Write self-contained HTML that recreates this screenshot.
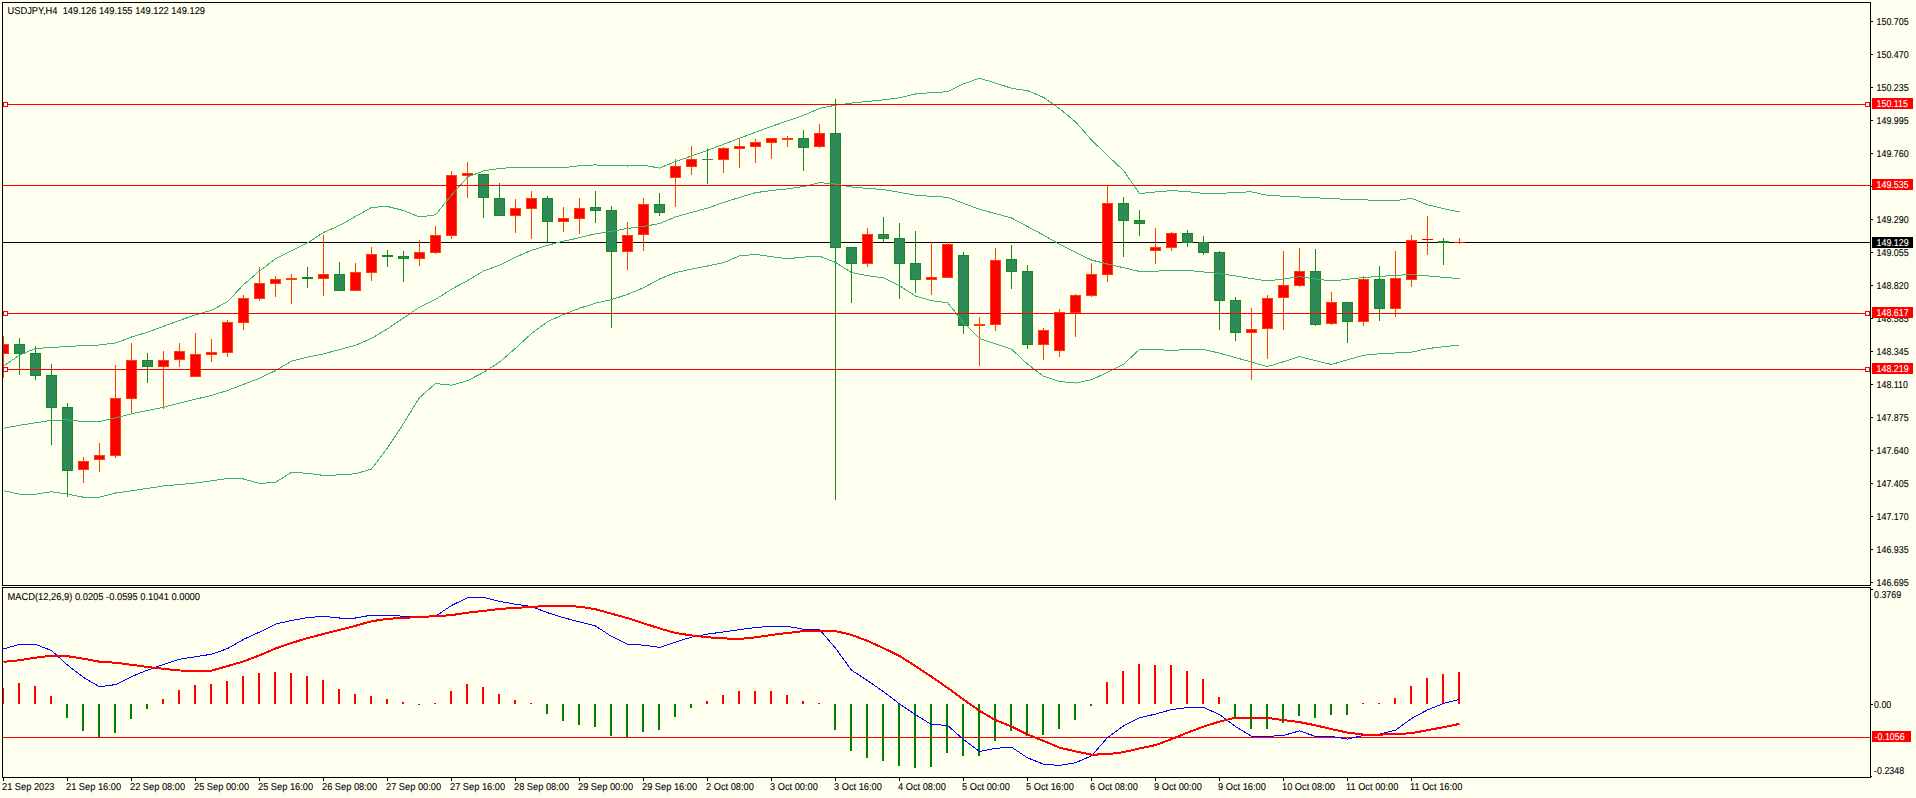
<!DOCTYPE html>
<html><head><meta charset="utf-8"><title>USDJPY,H4</title>
<style>html,body{margin:0;padding:0;background:#FFFFF0;width:1916px;height:798px;overflow:hidden}svg{display:block}.txt{font-family:"Liberation Sans",sans-serif}</style>
</head><body>
<svg width="1916" height="798" viewBox="0 0 1916 798">
<rect x="0" y="0" width="1916" height="798" fill="#FFFFF0"/>
<defs><clipPath id="cm"><rect x="3" y="3" width="1867" height="582"/></clipPath><clipPath id="cd"><rect x="3" y="588" width="1867" height="189"/></clipPath></defs>
<g clip-path="url(#cm)" shape-rendering="crispEdges">
<rect x="3" y="242" width="1867" height="1" fill="#000000"/>
<rect x="3" y="336" width="1" height="42" fill="#FF4000"/>
<rect x="-2" y="344" width="11" height="10" fill="#FF0000" />
<rect x="-1.5" y="344.5" width="10" height="9" fill="none" stroke="#FF4000" stroke-width="1"/>
<rect x="19" y="338" width="1" height="37" fill="#168A1C"/>
<rect x="14" y="344" width="11" height="10" fill="#2E8B57" />
<rect x="14.5" y="344.5" width="10" height="9" fill="none" stroke="#168A1C" stroke-width="1"/>
<rect x="35" y="346" width="1" height="34" fill="#168A1C"/>
<rect x="30" y="353" width="11" height="23" fill="#2E8B57" />
<rect x="30.5" y="353.5" width="10" height="22" fill="none" stroke="#168A1C" stroke-width="1"/>
<rect x="51" y="364" width="1" height="81" fill="#168A1C"/>
<rect x="46" y="375" width="11" height="33" fill="#2E8B57" />
<rect x="46.5" y="375.5" width="10" height="32" fill="none" stroke="#168A1C" stroke-width="1"/>
<rect x="67" y="403" width="1" height="94" fill="#168A1C"/>
<rect x="62" y="407" width="11" height="64" fill="#2E8B57" />
<rect x="62.5" y="407.5" width="10" height="63" fill="none" stroke="#168A1C" stroke-width="1"/>
<rect x="83" y="457" width="1" height="26" fill="#FF4000"/>
<rect x="78" y="461" width="11" height="9" fill="#FF0000" />
<rect x="78.5" y="461.5" width="10" height="8" fill="none" stroke="#FF4000" stroke-width="1"/>
<rect x="99" y="443" width="1" height="29" fill="#FF4000"/>
<rect x="94" y="455" width="11" height="5" fill="#FF0000" />
<rect x="94.5" y="455.5" width="10" height="4" fill="none" stroke="#FF4000" stroke-width="1"/>
<rect x="115" y="365" width="1" height="93" fill="#FF4000"/>
<rect x="110" y="398" width="11" height="58" fill="#FF0000" />
<rect x="110.5" y="398.5" width="10" height="57" fill="none" stroke="#FF4000" stroke-width="1"/>
<rect x="131" y="343" width="1" height="70" fill="#FF4000"/>
<rect x="126" y="360" width="11" height="39" fill="#FF0000" />
<rect x="126.5" y="360.5" width="10" height="38" fill="none" stroke="#FF4000" stroke-width="1"/>
<rect x="147" y="353" width="1" height="30" fill="#168A1C"/>
<rect x="142" y="360" width="11" height="7" fill="#2E8B57" />
<rect x="142.5" y="360.5" width="10" height="6" fill="none" stroke="#168A1C" stroke-width="1"/>
<rect x="163" y="351" width="1" height="58" fill="#FF4000"/>
<rect x="158" y="360" width="11" height="7" fill="#FF0000" />
<rect x="158.5" y="360.5" width="10" height="6" fill="none" stroke="#FF4000" stroke-width="1"/>
<rect x="179" y="343" width="1" height="24" fill="#FF4000"/>
<rect x="174" y="351" width="11" height="9" fill="#FF0000" />
<rect x="174.5" y="351.5" width="10" height="8" fill="none" stroke="#FF4000" stroke-width="1"/>
<rect x="195" y="333" width="1" height="44" fill="#FF4000"/>
<rect x="190" y="354" width="11" height="23" fill="#FF0000" />
<rect x="190.5" y="354.5" width="10" height="22" fill="none" stroke="#FF4000" stroke-width="1"/>
<rect x="211" y="339" width="1" height="23" fill="#FF4000"/>
<rect x="206" y="352" width="11" height="3" fill="#FF0000" />
<rect x="206.5" y="352.5" width="10" height="2" fill="none" stroke="#FF4000" stroke-width="1"/>
<rect x="227" y="320" width="1" height="37" fill="#FF4000"/>
<rect x="222" y="322" width="11" height="31" fill="#FF0000" />
<rect x="222.5" y="322.5" width="10" height="30" fill="none" stroke="#FF4000" stroke-width="1"/>
<rect x="243" y="295" width="1" height="35" fill="#FF4000"/>
<rect x="238" y="298" width="11" height="25" fill="#FF0000" />
<rect x="238.5" y="298.5" width="10" height="24" fill="none" stroke="#FF4000" stroke-width="1"/>
<rect x="259" y="267" width="1" height="34" fill="#FF4000"/>
<rect x="254" y="283" width="11" height="16" fill="#FF0000" />
<rect x="254.5" y="283.5" width="10" height="15" fill="none" stroke="#FF4000" stroke-width="1"/>
<rect x="275" y="276" width="1" height="21" fill="#FF4000"/>
<rect x="270" y="279" width="11" height="5" fill="#FF0000" />
<rect x="270.5" y="279.5" width="10" height="4" fill="none" stroke="#FF4000" stroke-width="1"/>
<rect x="291" y="274" width="1" height="30" fill="#FF4000"/>
<rect x="286" y="278" width="11" height="2" fill="#FF0000" />
<rect x="286.5" y="278.5" width="10" height="1" fill="none" stroke="#FF4000" stroke-width="1"/>
<rect x="307" y="267" width="1" height="21" fill="#168A1C"/>
<rect x="302" y="277" width="11" height="2" fill="#2E8B57" />
<rect x="302.5" y="277.5" width="10" height="1" fill="none" stroke="#168A1C" stroke-width="1"/>
<rect x="323" y="235" width="1" height="61" fill="#FF4000"/>
<rect x="318" y="274" width="11" height="5" fill="#FF0000" />
<rect x="318.5" y="274.5" width="10" height="4" fill="none" stroke="#FF4000" stroke-width="1"/>
<rect x="339" y="262" width="1" height="29" fill="#168A1C"/>
<rect x="334" y="274" width="11" height="17" fill="#2E8B57" />
<rect x="334.5" y="274.5" width="10" height="16" fill="none" stroke="#168A1C" stroke-width="1"/>
<rect x="355" y="263" width="1" height="28" fill="#FF4000"/>
<rect x="350" y="272" width="11" height="19" fill="#FF0000" />
<rect x="350.5" y="272.5" width="10" height="18" fill="none" stroke="#FF4000" stroke-width="1"/>
<rect x="371" y="247" width="1" height="34" fill="#FF4000"/>
<rect x="366" y="254" width="11" height="19" fill="#FF0000" />
<rect x="366.5" y="254.5" width="10" height="18" fill="none" stroke="#FF4000" stroke-width="1"/>
<rect x="387" y="250" width="1" height="17" fill="#168A1C"/>
<rect x="382" y="255" width="11" height="2" fill="#2E8B57" />
<rect x="382.5" y="255.5" width="10" height="1" fill="none" stroke="#168A1C" stroke-width="1"/>
<rect x="403" y="251" width="1" height="31" fill="#168A1C"/>
<rect x="398" y="256" width="11" height="3" fill="#2E8B57" />
<rect x="398.5" y="256.5" width="10" height="2" fill="none" stroke="#168A1C" stroke-width="1"/>
<rect x="419" y="240" width="1" height="26" fill="#FF4000"/>
<rect x="414" y="252" width="11" height="7" fill="#FF0000" />
<rect x="414.5" y="252.5" width="10" height="6" fill="none" stroke="#FF4000" stroke-width="1"/>
<rect x="435" y="226" width="1" height="28" fill="#FF4000"/>
<rect x="430" y="235" width="11" height="18" fill="#FF0000" />
<rect x="430.5" y="235.5" width="10" height="17" fill="none" stroke="#FF4000" stroke-width="1"/>
<rect x="451" y="171" width="1" height="68" fill="#FF4000"/>
<rect x="446" y="175" width="11" height="61" fill="#FF0000" />
<rect x="446.5" y="175.5" width="10" height="60" fill="none" stroke="#FF4000" stroke-width="1"/>
<rect x="467" y="162" width="1" height="36" fill="#FF4000"/>
<rect x="462" y="173" width="11" height="3" fill="#FF0000" />
<rect x="462.5" y="173.5" width="10" height="2" fill="none" stroke="#FF4000" stroke-width="1"/>
<rect x="483" y="174" width="1" height="44" fill="#168A1C"/>
<rect x="478" y="174" width="11" height="24" fill="#2E8B57" />
<rect x="478.5" y="174.5" width="10" height="23" fill="none" stroke="#168A1C" stroke-width="1"/>
<rect x="499" y="183" width="1" height="33" fill="#168A1C"/>
<rect x="494" y="198" width="11" height="18" fill="#2E8B57" />
<rect x="494.5" y="198.5" width="10" height="17" fill="none" stroke="#168A1C" stroke-width="1"/>
<rect x="515" y="199" width="1" height="34" fill="#FF4000"/>
<rect x="510" y="208" width="11" height="8" fill="#FF0000" />
<rect x="510.5" y="208.5" width="10" height="7" fill="none" stroke="#FF4000" stroke-width="1"/>
<rect x="531" y="191" width="1" height="48" fill="#FF4000"/>
<rect x="526" y="198" width="11" height="11" fill="#FF0000" />
<rect x="526.5" y="198.5" width="10" height="10" fill="none" stroke="#FF4000" stroke-width="1"/>
<rect x="547" y="196" width="1" height="46" fill="#168A1C"/>
<rect x="542" y="198" width="11" height="24" fill="#2E8B57" />
<rect x="542.5" y="198.5" width="10" height="23" fill="none" stroke="#168A1C" stroke-width="1"/>
<rect x="563" y="207" width="1" height="25" fill="#FF4000"/>
<rect x="558" y="218" width="11" height="4" fill="#FF0000" />
<rect x="558.5" y="218.5" width="10" height="3" fill="none" stroke="#FF4000" stroke-width="1"/>
<rect x="579" y="198" width="1" height="36" fill="#FF4000"/>
<rect x="574" y="208" width="11" height="11" fill="#FF0000" />
<rect x="574.5" y="208.5" width="10" height="10" fill="none" stroke="#FF4000" stroke-width="1"/>
<rect x="595" y="191" width="1" height="32" fill="#168A1C"/>
<rect x="590" y="207" width="11" height="4" fill="#2E8B57" />
<rect x="590.5" y="207.5" width="10" height="3" fill="none" stroke="#168A1C" stroke-width="1"/>
<rect x="611" y="206" width="1" height="122" fill="#168A1C"/>
<rect x="606" y="210" width="11" height="42" fill="#2E8B57" />
<rect x="606.5" y="210.5" width="10" height="41" fill="none" stroke="#168A1C" stroke-width="1"/>
<rect x="627" y="222" width="1" height="48" fill="#FF4000"/>
<rect x="622" y="235" width="11" height="17" fill="#FF0000" />
<rect x="622.5" y="235.5" width="10" height="16" fill="none" stroke="#FF4000" stroke-width="1"/>
<rect x="643" y="198" width="1" height="53" fill="#FF4000"/>
<rect x="638" y="204" width="11" height="31" fill="#FF0000" />
<rect x="638.5" y="204.5" width="10" height="30" fill="none" stroke="#FF4000" stroke-width="1"/>
<rect x="659" y="193" width="1" height="23" fill="#168A1C"/>
<rect x="654" y="204" width="11" height="9" fill="#2E8B57" />
<rect x="654.5" y="204.5" width="10" height="8" fill="none" stroke="#168A1C" stroke-width="1"/>
<rect x="675" y="159" width="1" height="48" fill="#FF4000"/>
<rect x="670" y="166" width="11" height="12" fill="#FF0000" />
<rect x="670.5" y="166.5" width="10" height="11" fill="none" stroke="#FF4000" stroke-width="1"/>
<rect x="691" y="146" width="1" height="29" fill="#FF4000"/>
<rect x="686" y="159" width="11" height="8" fill="#FF0000" />
<rect x="686.5" y="159.5" width="10" height="7" fill="none" stroke="#FF4000" stroke-width="1"/>
<rect x="707" y="149" width="1" height="35" fill="#168A1C"/>
<rect x="702" y="159" width="11" height="1" fill="#2E8B57" />
<rect x="702.5" y="159.5" width="10" height="0" fill="none" stroke="#168A1C" stroke-width="1"/>
<rect x="723" y="147" width="1" height="26" fill="#FF4000"/>
<rect x="718" y="148" width="11" height="12" fill="#FF0000" />
<rect x="718.5" y="148.5" width="10" height="11" fill="none" stroke="#FF4000" stroke-width="1"/>
<rect x="739" y="139" width="1" height="29" fill="#FF4000"/>
<rect x="734" y="146" width="11" height="3" fill="#FF0000" />
<rect x="734.5" y="146.5" width="10" height="2" fill="none" stroke="#FF4000" stroke-width="1"/>
<rect x="755" y="139" width="1" height="24" fill="#FF4000"/>
<rect x="750" y="142" width="11" height="5" fill="#FF0000" />
<rect x="750.5" y="142.5" width="10" height="4" fill="none" stroke="#FF4000" stroke-width="1"/>
<rect x="771" y="138" width="1" height="21" fill="#FF4000"/>
<rect x="766" y="138" width="11" height="5" fill="#FF0000" />
<rect x="766.5" y="138.5" width="10" height="4" fill="none" stroke="#FF4000" stroke-width="1"/>
<rect x="787" y="136" width="1" height="11" fill="#FF4000"/>
<rect x="782" y="138" width="11" height="2" fill="#FF0000" />
<rect x="782.5" y="138.5" width="10" height="1" fill="none" stroke="#FF4000" stroke-width="1"/>
<rect x="803" y="130" width="1" height="41" fill="#168A1C"/>
<rect x="798" y="138" width="11" height="10" fill="#2E8B57" />
<rect x="798.5" y="138.5" width="10" height="9" fill="none" stroke="#168A1C" stroke-width="1"/>
<rect x="819" y="124" width="1" height="24" fill="#FF4000"/>
<rect x="814" y="133" width="11" height="14" fill="#FF0000" />
<rect x="814.5" y="133.5" width="10" height="13" fill="none" stroke="#FF4000" stroke-width="1"/>
<rect x="835" y="99" width="1" height="401" fill="#168A1C"/>
<rect x="830" y="133" width="11" height="115" fill="#2E8B57" />
<rect x="830.5" y="133.5" width="10" height="114" fill="none" stroke="#168A1C" stroke-width="1"/>
<rect x="851" y="247" width="1" height="56" fill="#168A1C"/>
<rect x="846" y="247" width="11" height="17" fill="#2E8B57" />
<rect x="846.5" y="247.5" width="10" height="16" fill="none" stroke="#168A1C" stroke-width="1"/>
<rect x="867" y="228" width="1" height="39" fill="#FF4000"/>
<rect x="862" y="234" width="11" height="30" fill="#FF0000" />
<rect x="862.5" y="234.5" width="10" height="29" fill="none" stroke="#FF4000" stroke-width="1"/>
<rect x="883" y="217" width="1" height="25" fill="#168A1C"/>
<rect x="878" y="234" width="11" height="5" fill="#2E8B57" />
<rect x="878.5" y="234.5" width="10" height="4" fill="none" stroke="#168A1C" stroke-width="1"/>
<rect x="899" y="223" width="1" height="76" fill="#168A1C"/>
<rect x="894" y="238" width="11" height="26" fill="#2E8B57" />
<rect x="894.5" y="238.5" width="10" height="25" fill="none" stroke="#168A1C" stroke-width="1"/>
<rect x="915" y="231" width="1" height="62" fill="#168A1C"/>
<rect x="910" y="263" width="11" height="17" fill="#2E8B57" />
<rect x="910.5" y="263.5" width="10" height="16" fill="none" stroke="#168A1C" stroke-width="1"/>
<rect x="931" y="242" width="1" height="53" fill="#FF4000"/>
<rect x="926" y="277" width="11" height="3" fill="#FF0000" />
<rect x="926.5" y="277.5" width="10" height="2" fill="none" stroke="#FF4000" stroke-width="1"/>
<rect x="947" y="242" width="1" height="36" fill="#FF4000"/>
<rect x="942" y="244" width="11" height="34" fill="#FF0000" />
<rect x="942.5" y="244.5" width="10" height="33" fill="none" stroke="#FF4000" stroke-width="1"/>
<rect x="963" y="252" width="1" height="82" fill="#168A1C"/>
<rect x="958" y="255" width="11" height="71" fill="#2E8B57" />
<rect x="958.5" y="255.5" width="10" height="70" fill="none" stroke="#168A1C" stroke-width="1"/>
<rect x="979" y="317" width="1" height="49" fill="#FF4000"/>
<rect x="974" y="324" width="11" height="2" fill="#FF0000" />
<rect x="974.5" y="324.5" width="10" height="1" fill="none" stroke="#FF4000" stroke-width="1"/>
<rect x="995" y="248" width="1" height="83" fill="#FF4000"/>
<rect x="990" y="260" width="11" height="65" fill="#FF0000" />
<rect x="990.5" y="260.5" width="10" height="64" fill="none" stroke="#FF4000" stroke-width="1"/>
<rect x="1011" y="245" width="1" height="44" fill="#168A1C"/>
<rect x="1006" y="259" width="11" height="13" fill="#2E8B57" />
<rect x="1006.5" y="259.5" width="10" height="12" fill="none" stroke="#168A1C" stroke-width="1"/>
<rect x="1027" y="265" width="1" height="84" fill="#168A1C"/>
<rect x="1022" y="271" width="11" height="74" fill="#2E8B57" />
<rect x="1022.5" y="271.5" width="10" height="73" fill="none" stroke="#168A1C" stroke-width="1"/>
<rect x="1043" y="328" width="1" height="32" fill="#FF4000"/>
<rect x="1038" y="330" width="11" height="15" fill="#FF0000" />
<rect x="1038.5" y="330.5" width="10" height="14" fill="none" stroke="#FF4000" stroke-width="1"/>
<rect x="1059" y="309" width="1" height="48" fill="#FF4000"/>
<rect x="1054" y="312" width="11" height="39" fill="#FF0000" />
<rect x="1054.5" y="312.5" width="10" height="38" fill="none" stroke="#FF4000" stroke-width="1"/>
<rect x="1075" y="294" width="1" height="43" fill="#FF4000"/>
<rect x="1070" y="295" width="11" height="18" fill="#FF0000" />
<rect x="1070.5" y="295.5" width="10" height="17" fill="none" stroke="#FF4000" stroke-width="1"/>
<rect x="1091" y="263" width="1" height="34" fill="#FF4000"/>
<rect x="1086" y="274" width="11" height="22" fill="#FF0000" />
<rect x="1086.5" y="274.5" width="10" height="21" fill="none" stroke="#FF4000" stroke-width="1"/>
<rect x="1107" y="186" width="1" height="96" fill="#FF4000"/>
<rect x="1102" y="203" width="11" height="72" fill="#FF0000" />
<rect x="1102.5" y="203.5" width="10" height="71" fill="none" stroke="#FF4000" stroke-width="1"/>
<rect x="1123" y="197" width="1" height="60" fill="#168A1C"/>
<rect x="1118" y="203" width="11" height="18" fill="#2E8B57" />
<rect x="1118.5" y="203.5" width="10" height="17" fill="none" stroke="#168A1C" stroke-width="1"/>
<rect x="1139" y="210" width="1" height="26" fill="#168A1C"/>
<rect x="1134" y="220" width="11" height="4" fill="#2E8B57" />
<rect x="1134.5" y="220.5" width="10" height="3" fill="none" stroke="#168A1C" stroke-width="1"/>
<rect x="1155" y="228" width="1" height="36" fill="#FF4000"/>
<rect x="1150" y="247" width="11" height="4" fill="#FF0000" />
<rect x="1150.5" y="247.5" width="10" height="3" fill="none" stroke="#FF4000" stroke-width="1"/>
<rect x="1171" y="232" width="1" height="19" fill="#FF4000"/>
<rect x="1166" y="233" width="11" height="15" fill="#FF0000" />
<rect x="1166.5" y="233.5" width="10" height="14" fill="none" stroke="#FF4000" stroke-width="1"/>
<rect x="1187" y="230" width="1" height="17" fill="#168A1C"/>
<rect x="1182" y="233" width="11" height="10" fill="#2E8B57" />
<rect x="1182.5" y="233.5" width="10" height="9" fill="none" stroke="#168A1C" stroke-width="1"/>
<rect x="1203" y="236" width="1" height="19" fill="#168A1C"/>
<rect x="1198" y="242" width="11" height="11" fill="#2E8B57" />
<rect x="1198.5" y="242.5" width="10" height="10" fill="none" stroke="#168A1C" stroke-width="1"/>
<rect x="1219" y="251" width="1" height="79" fill="#168A1C"/>
<rect x="1214" y="252" width="11" height="49" fill="#2E8B57" />
<rect x="1214.5" y="252.5" width="10" height="48" fill="none" stroke="#168A1C" stroke-width="1"/>
<rect x="1235" y="297" width="1" height="44" fill="#168A1C"/>
<rect x="1230" y="300" width="11" height="33" fill="#2E8B57" />
<rect x="1230.5" y="300.5" width="10" height="32" fill="none" stroke="#168A1C" stroke-width="1"/>
<rect x="1251" y="308" width="1" height="72" fill="#FF4000"/>
<rect x="1246" y="329" width="11" height="4" fill="#FF0000" />
<rect x="1246.5" y="329.5" width="10" height="3" fill="none" stroke="#FF4000" stroke-width="1"/>
<rect x="1267" y="295" width="1" height="64" fill="#FF4000"/>
<rect x="1262" y="298" width="11" height="31" fill="#FF0000" />
<rect x="1262.5" y="298.5" width="10" height="30" fill="none" stroke="#FF4000" stroke-width="1"/>
<rect x="1283" y="251" width="1" height="79" fill="#FF4000"/>
<rect x="1278" y="285" width="11" height="13" fill="#FF0000" />
<rect x="1278.5" y="285.5" width="10" height="12" fill="none" stroke="#FF4000" stroke-width="1"/>
<rect x="1299" y="248" width="1" height="39" fill="#FF4000"/>
<rect x="1294" y="271" width="11" height="15" fill="#FF0000" />
<rect x="1294.5" y="271.5" width="10" height="14" fill="none" stroke="#FF4000" stroke-width="1"/>
<rect x="1315" y="249" width="1" height="77" fill="#168A1C"/>
<rect x="1310" y="271" width="11" height="54" fill="#2E8B57" />
<rect x="1310.5" y="271.5" width="10" height="53" fill="none" stroke="#168A1C" stroke-width="1"/>
<rect x="1331" y="292" width="1" height="33" fill="#FF4000"/>
<rect x="1326" y="302" width="11" height="22" fill="#FF0000" />
<rect x="1326.5" y="302.5" width="10" height="21" fill="none" stroke="#FF4000" stroke-width="1"/>
<rect x="1347" y="302" width="1" height="41" fill="#168A1C"/>
<rect x="1342" y="302" width="11" height="20" fill="#2E8B57" />
<rect x="1342.5" y="302.5" width="10" height="19" fill="none" stroke="#168A1C" stroke-width="1"/>
<rect x="1363" y="276" width="1" height="50" fill="#FF4000"/>
<rect x="1358" y="279" width="11" height="43" fill="#FF0000" />
<rect x="1358.5" y="279.5" width="10" height="42" fill="none" stroke="#FF4000" stroke-width="1"/>
<rect x="1379" y="266" width="1" height="55" fill="#168A1C"/>
<rect x="1374" y="279" width="11" height="30" fill="#2E8B57" />
<rect x="1374.5" y="279.5" width="10" height="29" fill="none" stroke="#168A1C" stroke-width="1"/>
<rect x="1395" y="251" width="1" height="66" fill="#FF4000"/>
<rect x="1390" y="278" width="11" height="31" fill="#FF0000" />
<rect x="1390.5" y="278.5" width="10" height="30" fill="none" stroke="#FF4000" stroke-width="1"/>
<rect x="1411" y="235" width="1" height="52" fill="#FF4000"/>
<rect x="1406" y="240" width="11" height="40" fill="#FF0000" />
<rect x="1406.5" y="240.5" width="10" height="39" fill="none" stroke="#FF4000" stroke-width="1"/>
<rect x="1427" y="216" width="1" height="39" fill="#FF4000"/>
<rect x="1422" y="239" width="11" height="1" fill="#FF0000" />
<rect x="1422.5" y="239.5" width="10" height="0" fill="none" stroke="#FF4000" stroke-width="1"/>
<rect x="1443" y="238" width="1" height="27" fill="#168A1C"/>
<rect x="1438" y="241" width="11" height="2" fill="#2E8B57" />
<rect x="1438.5" y="241.5" width="10" height="1" fill="none" stroke="#168A1C" stroke-width="1"/>
<rect x="1459" y="238" width="1" height="6" fill="#FF4000"/>
<rect x="1454" y="242" width="11" height="1" fill="#FF0000" />
<rect x="1454.5" y="242.5" width="10" height="0" fill="none" stroke="#FF4000" stroke-width="1"/>
</g>
<g clip-path="url(#cm)" fill="none" stroke="#3CB371" stroke-width="1" shape-rendering="crispEdges">
<polyline points="3.5,366.2 19.5,354.9 35.5,348.5 51.5,347.5 67.5,346.4 83.5,345.7 99.5,345.0 115.5,343.0 131.5,337.0 147.5,332.2 163.5,326.4 179.5,320.4 195.5,314.9 211.5,310.2 227.5,301.8 243.5,284.6 259.5,271.0 275.5,258.8 291.5,250.9 307.5,242.9 323.5,232.5 339.5,225.5 355.5,216.5 371.5,207.4 387.5,206.5 403.5,210.5 419.5,217.0 435.5,214.8 451.5,195.1 467.5,177.1 483.5,170.9 499.5,168.5 515.5,167.2 531.5,167.2 547.5,167.4 563.5,167.7 579.5,165.7 595.5,164.9 611.5,165.9 627.5,166.0 643.5,165.2 659.5,168.1 675.5,161.5 691.5,156.0 707.5,150.4 723.5,144.3 739.5,138.2 755.5,132.3 771.5,126.4 787.5,120.9 803.5,115.4 819.5,108.4 835.5,105.2 851.5,103.1 867.5,101.5 883.5,99.9 899.5,97.8 915.5,94.0 931.5,92.6 947.5,91.8 963.5,83.9 979.5,78.2 995.5,83.1 1011.5,88.3 1027.5,90.6 1043.5,97.4 1059.5,108.6 1075.5,121.9 1091.5,140.0 1107.5,155.5 1123.5,170.5 1139.5,193.5 1155.5,192.0 1171.5,190.6 1187.5,191.6 1203.5,193.4 1219.5,193.8 1235.5,192.2 1251.5,191.9 1267.5,195.4 1283.5,196.2 1299.5,197.0 1315.5,197.8 1331.5,198.6 1347.5,199.4 1363.5,199.9 1379.5,200.3 1395.5,200.7 1411.5,198.3 1427.5,204.8 1443.5,208.6 1459.5,212.0"/>
<polyline points="3.5,428.2 19.5,425.3 35.5,422.8 51.5,420.4 67.5,419.8 83.5,421.6 99.5,421.6 115.5,417.8 131.5,413.8 147.5,410.5 163.5,407.3 179.5,403.1 195.5,399.2 211.5,395.4 227.5,390.5 243.5,384.4 259.5,378.3 275.5,370.5 291.5,361.2 307.5,357.2 323.5,353.9 339.5,349.6 355.5,345.3 371.5,338.5 387.5,328.8 403.5,318.0 419.5,307.1 435.5,299.4 451.5,289.2 467.5,280.7 483.5,270.9 499.5,265.1 515.5,257.1 531.5,250.3 547.5,245.3 563.5,241.2 579.5,237.7 595.5,233.8 611.5,231.4 627.5,228.4 643.5,226.4 659.5,223.6 675.5,216.9 691.5,212.4 707.5,208.1 723.5,202.5 739.5,197.4 755.5,192.7 771.5,190.5 787.5,188.9 803.5,186.5 819.5,182.6 835.5,184.1 851.5,187.0 867.5,188.4 883.5,189.6 899.5,192.3 915.5,195.2 931.5,196.3 947.5,197.3 963.5,203.3 979.5,209.3 995.5,213.6 1011.5,218.0 1027.5,226.5 1043.5,235.1 1059.5,244.3 1075.5,252.3 1091.5,260.0 1107.5,264.0 1123.5,267.7 1139.5,271.5 1155.5,271.1 1171.5,270.7 1187.5,270.4 1203.5,272.0 1219.5,273.6 1235.5,276.0 1251.5,278.5 1267.5,281.0 1283.5,278.9 1299.5,276.7 1315.5,278.9 1331.5,281.0 1347.5,279.3 1363.5,277.5 1379.5,276.4 1395.5,275.4 1411.5,274.5 1427.5,275.9 1443.5,277.3 1459.5,278.7"/>
<polyline points="3.5,490.6 19.5,494.2 35.5,494.2 51.5,491.8 67.5,494.1 83.5,497.2 99.5,497.2 115.5,493.0 131.5,490.8 147.5,488.4 163.5,486.0 179.5,484.5 195.5,483.0 211.5,480.8 227.5,478.5 243.5,479.0 259.5,483.5 275.5,482.3 291.5,472.3 307.5,473.3 323.5,475.4 339.5,474.9 355.5,473.8 371.5,469.0 387.5,447.9 403.5,423.6 419.5,397.6 435.5,383.6 451.5,385.2 467.5,380.7 483.5,372.4 499.5,362.1 515.5,348.3 531.5,333.5 547.5,321.7 563.5,314.4 579.5,308.3 595.5,303.2 611.5,299.6 627.5,294.4 643.5,287.8 659.5,279.0 675.5,272.6 691.5,269.1 707.5,266.0 723.5,262.8 739.5,255.9 755.5,254.4 771.5,256.7 787.5,258.7 803.5,257.1 819.5,256.2 835.5,262.4 851.5,272.6 867.5,275.6 883.5,277.9 899.5,285.7 915.5,296.0 931.5,300.7 947.5,302.7 963.5,322.3 979.5,338.5 995.5,343.9 1011.5,349.1 1027.5,364.1 1043.5,376.2 1059.5,381.5 1075.5,383.1 1091.5,379.7 1107.5,372.4 1123.5,364.3 1139.5,349.4 1155.5,349.8 1171.5,350.2 1187.5,349.8 1203.5,349.4 1219.5,353.2 1235.5,357.6 1251.5,362.1 1267.5,366.6 1283.5,361.7 1299.5,356.6 1315.5,360.6 1331.5,364.5 1347.5,359.8 1363.5,355.2 1379.5,353.8 1395.5,353.0 1411.5,352.2 1427.5,348.6 1443.5,346.7 1459.5,345.0"/>
</g>
<g shape-rendering="crispEdges">
<rect x="3" y="104" width="1867" height="1" fill="#FF0000"/>
<rect x="3.5" y="102.5" width="4" height="4" fill="#FFFFF0" stroke="#FF0000" stroke-width="1"/>
<rect x="1865.5" y="102.5" width="4" height="4" fill="#FFFFF0" stroke="#FF0000" stroke-width="1"/>
<rect x="3" y="185" width="1867" height="1" fill="#FF0000"/>
<rect x="3" y="313" width="1867" height="1" fill="#FF0000"/>
<rect x="3.5" y="311.5" width="4" height="4" fill="#FFFFF0" stroke="#FF0000" stroke-width="1"/>
<rect x="1865.5" y="311.5" width="4" height="4" fill="#FFFFF0" stroke="#FF0000" stroke-width="1"/>
<rect x="3" y="369" width="1867" height="1" fill="#FF0000"/>
<rect x="3.5" y="367.5" width="4" height="4" fill="#FFFFF0" stroke="#FF0000" stroke-width="1"/>
<rect x="1865.5" y="367.5" width="4" height="4" fill="#FFFFF0" stroke="#FF0000" stroke-width="1"/>
</g>
<g clip-path="url(#cd)" shape-rendering="crispEdges">
<rect x="2" y="688" width="2" height="16" fill="#FF0000"/>
<rect x="18" y="683" width="2" height="21" fill="#FF0000"/>
<rect x="34" y="686" width="2" height="18" fill="#FF0000"/>
<rect x="50" y="696" width="2" height="8" fill="#FF0000"/>
<rect x="162" y="699" width="2" height="5" fill="#FF0000"/>
<rect x="178" y="690" width="2" height="14" fill="#FF0000"/>
<rect x="194" y="685" width="2" height="19" fill="#FF0000"/>
<rect x="210" y="684" width="2" height="20" fill="#FF0000"/>
<rect x="226" y="681" width="2" height="23" fill="#FF0000"/>
<rect x="242" y="676" width="2" height="28" fill="#FF0000"/>
<rect x="258" y="673" width="2" height="31" fill="#FF0000"/>
<rect x="274" y="672" width="2" height="32" fill="#FF0000"/>
<rect x="290" y="673" width="2" height="31" fill="#FF0000"/>
<rect x="306" y="676" width="2" height="28" fill="#FF0000"/>
<rect x="322" y="680" width="2" height="24" fill="#FF0000"/>
<rect x="338" y="689" width="2" height="15" fill="#FF0000"/>
<rect x="354" y="694" width="2" height="10" fill="#FF0000"/>
<rect x="370" y="696" width="2" height="8" fill="#FF0000"/>
<rect x="386" y="699" width="2" height="5" fill="#FF0000"/>
<rect x="402" y="702" width="2" height="2" fill="#FF0000"/>
<rect x="434" y="703" width="2" height="1" fill="#FF0000"/>
<rect x="450" y="691" width="2" height="13" fill="#FF0000"/>
<rect x="466" y="684" width="2" height="20" fill="#FF0000"/>
<rect x="482" y="687" width="2" height="17" fill="#FF0000"/>
<rect x="498" y="694" width="2" height="10" fill="#FF0000"/>
<rect x="514" y="700" width="2" height="4" fill="#FF0000"/>
<rect x="530" y="703" width="2" height="1" fill="#FF0000"/>
<rect x="706" y="701" width="2" height="3" fill="#FF0000"/>
<rect x="722" y="695" width="2" height="9" fill="#FF0000"/>
<rect x="738" y="691" width="2" height="13" fill="#FF0000"/>
<rect x="754" y="691" width="2" height="13" fill="#FF0000"/>
<rect x="770" y="691" width="2" height="13" fill="#FF0000"/>
<rect x="786" y="695" width="2" height="9" fill="#FF0000"/>
<rect x="802" y="701" width="2" height="3" fill="#FF0000"/>
<rect x="818" y="703" width="2" height="1" fill="#FF0000"/>
<rect x="1106" y="682" width="2" height="22" fill="#FF0000"/>
<rect x="1122" y="671" width="2" height="33" fill="#FF0000"/>
<rect x="1138" y="664" width="2" height="40" fill="#FF0000"/>
<rect x="1154" y="665" width="2" height="39" fill="#FF0000"/>
<rect x="1170" y="665" width="2" height="39" fill="#FF0000"/>
<rect x="1186" y="671" width="2" height="33" fill="#FF0000"/>
<rect x="1202" y="679" width="2" height="25" fill="#FF0000"/>
<rect x="1218" y="697" width="2" height="7" fill="#FF0000"/>
<rect x="1362" y="703" width="2" height="1" fill="#FF0000"/>
<rect x="1378" y="703" width="2" height="1" fill="#FF0000"/>
<rect x="1394" y="698" width="2" height="6" fill="#FF0000"/>
<rect x="1410" y="686" width="2" height="18" fill="#FF0000"/>
<rect x="1426" y="678" width="2" height="26" fill="#FF0000"/>
<rect x="1442" y="674" width="2" height="30" fill="#FF0000"/>
<rect x="1458" y="672" width="2" height="32" fill="#FF0000"/>
<rect x="66" y="704" width="2" height="14" fill="#008000"/>
<rect x="82" y="704" width="2" height="27" fill="#008000"/>
<rect x="98" y="704" width="2" height="34" fill="#008000"/>
<rect x="114" y="704" width="2" height="29" fill="#008000"/>
<rect x="130" y="704" width="2" height="15" fill="#008000"/>
<rect x="146" y="704" width="2" height="5" fill="#008000"/>
<rect x="418" y="704" width="2" height="1" fill="#008000"/>
<rect x="546" y="704" width="2" height="10" fill="#008000"/>
<rect x="562" y="704" width="2" height="17" fill="#008000"/>
<rect x="578" y="704" width="2" height="21" fill="#008000"/>
<rect x="594" y="704" width="2" height="23" fill="#008000"/>
<rect x="610" y="704" width="2" height="32" fill="#008000"/>
<rect x="626" y="704" width="2" height="33" fill="#008000"/>
<rect x="642" y="704" width="2" height="28" fill="#008000"/>
<rect x="658" y="704" width="2" height="26" fill="#008000"/>
<rect x="674" y="704" width="2" height="13" fill="#008000"/>
<rect x="690" y="704" width="2" height="4" fill="#008000"/>
<rect x="834" y="704" width="2" height="26" fill="#008000"/>
<rect x="850" y="704" width="2" height="47" fill="#008000"/>
<rect x="866" y="704" width="2" height="54" fill="#008000"/>
<rect x="882" y="704" width="2" height="57" fill="#008000"/>
<rect x="898" y="704" width="2" height="62" fill="#008000"/>
<rect x="914" y="704" width="2" height="64" fill="#008000"/>
<rect x="930" y="704" width="2" height="63" fill="#008000"/>
<rect x="946" y="704" width="2" height="49" fill="#008000"/>
<rect x="962" y="704" width="2" height="52" fill="#008000"/>
<rect x="978" y="704" width="2" height="52" fill="#008000"/>
<rect x="994" y="704" width="2" height="37" fill="#008000"/>
<rect x="1010" y="704" width="2" height="27" fill="#008000"/>
<rect x="1026" y="704" width="2" height="32" fill="#008000"/>
<rect x="1042" y="704" width="2" height="31" fill="#008000"/>
<rect x="1058" y="704" width="2" height="25" fill="#008000"/>
<rect x="1074" y="704" width="2" height="16" fill="#008000"/>
<rect x="1090" y="704" width="2" height="2" fill="#008000"/>
<rect x="1234" y="704" width="2" height="14" fill="#008000"/>
<rect x="1250" y="704" width="2" height="25" fill="#008000"/>
<rect x="1266" y="704" width="2" height="25" fill="#008000"/>
<rect x="1282" y="704" width="2" height="19" fill="#008000"/>
<rect x="1298" y="704" width="2" height="12" fill="#008000"/>
<rect x="1314" y="704" width="2" height="14" fill="#008000"/>
<rect x="1330" y="704" width="2" height="11" fill="#008000"/>
<rect x="1346" y="704" width="2" height="11" fill="#008000"/>
<rect x="3" y="737" width="1867" height="1" fill="#FF0000"/>
</g>
<g clip-path="url(#cd)" fill="none" shape-rendering="crispEdges">
<polyline stroke="#0000FF" stroke-width="1" points="3.5,648.9 19.5,644.4 35.5,644.4 51.5,650.5 67.5,665.1 83.5,677.4 99.5,686.8 115.5,684.6 131.5,676.6 147.5,670.1 163.5,664.5 179.5,659.2 195.5,656.8 211.5,654.2 227.5,648.6 243.5,639.4 259.5,632.1 275.5,624.1 291.5,620.5 307.5,617.6 323.5,616.3 339.5,618.0 355.5,618.0 371.5,615.1 387.5,615.1 403.5,616.3 419.5,616.3 435.5,616.3 451.5,605.5 467.5,597.7 483.5,597.5 499.5,601.3 515.5,604.2 531.5,606.5 547.5,612.7 563.5,617.7 579.5,621.9 595.5,626.0 611.5,636.4 627.5,644.4 643.5,645.1 659.5,647.4 675.5,642.1 691.5,637.1 707.5,634.1 723.5,631.9 739.5,629.6 755.5,627.5 771.5,626.3 787.5,626.3 803.5,629.3 819.5,629.4 835.5,648.2 851.5,670.2 867.5,680.6 883.5,691.7 899.5,703.9 915.5,714.7 931.5,724.6 947.5,725.3 963.5,739.6 979.5,751.4 995.5,748.4 1011.5,747.1 1027.5,757.8 1043.5,764.2 1059.5,765.4 1075.5,762.7 1091.5,755.9 1107.5,737.6 1123.5,725.9 1139.5,717.7 1155.5,714.1 1171.5,709.6 1187.5,707.5 1203.5,707.5 1219.5,714.5 1235.5,726.5 1251.5,736.2 1267.5,736.4 1283.5,735.4 1299.5,730.9 1315.5,736.4 1331.5,736.4 1347.5,739.1 1363.5,735.4 1379.5,734.1 1395.5,730.2 1411.5,718.5 1427.5,709.9 1443.5,703.5 1459.5,699.4"/>
<polyline stroke="#FF0000" stroke-width="2" points="3.5,661.9 19.5,660.2 35.5,657.7 51.5,655.7 67.5,656.2 83.5,658.7 99.5,661.7 115.5,662.7 131.5,664.8 147.5,667.0 163.5,668.8 179.5,670.5 195.5,670.7 211.5,670.6 227.5,666.1 243.5,661.4 259.5,655.4 275.5,648.5 291.5,643.0 307.5,638.1 323.5,634.0 339.5,629.9 355.5,625.8 371.5,621.3 387.5,618.8 403.5,618.0 419.5,616.8 435.5,616.3 451.5,615.1 467.5,612.7 483.5,610.9 499.5,608.9 515.5,607.9 531.5,606.9 547.5,606.0 563.5,605.9 579.5,606.7 595.5,609.2 611.5,613.7 627.5,618.1 643.5,623.3 659.5,628.4 675.5,633.0 691.5,635.4 707.5,637.3 723.5,638.4 739.5,638.9 755.5,637.4 771.5,634.9 787.5,633.0 803.5,631.1 819.5,631.1 835.5,631.1 851.5,634.9 867.5,640.9 883.5,648.2 899.5,655.9 915.5,666.1 931.5,676.7 947.5,687.8 963.5,699.5 979.5,710.8 995.5,720.1 1011.5,726.6 1027.5,734.6 1043.5,740.9 1059.5,747.6 1075.5,751.4 1091.5,754.7 1107.5,754.2 1123.5,752.2 1139.5,748.4 1155.5,745.1 1171.5,739.1 1187.5,732.6 1203.5,726.6 1219.5,721.6 1235.5,717.6 1251.5,717.6 1267.5,717.8 1283.5,720.1 1299.5,722.1 1315.5,725.3 1331.5,729.1 1347.5,732.6 1363.5,734.6 1379.5,734.6 1395.5,734.1 1411.5,733.2 1427.5,730.2 1443.5,727.2 1459.5,723.9"/>
</g>
<g shape-rendering="crispEdges">
<rect x="2" y="2" width="1869" height="1" fill="#000"/>
<rect x="2" y="585" width="1869" height="1" fill="#000"/>
<rect x="2" y="2" width="1" height="584" fill="#000"/>
<rect x="1870" y="2" width="1" height="584" fill="#000"/>
<rect x="2" y="587" width="1869" height="1" fill="#000"/>
<rect x="2" y="777" width="1869" height="1" fill="#000"/>
<rect x="2" y="587" width="1" height="191" fill="#000"/>
<rect x="1870" y="587" width="1" height="191" fill="#000"/>
<rect x="1871" y="21" width="2" height="1" fill="#000"/>
<rect x="1871" y="54" width="2" height="1" fill="#000"/>
<rect x="1871" y="87" width="2" height="1" fill="#000"/>
<rect x="1871" y="120" width="2" height="1" fill="#000"/>
<rect x="1871" y="153" width="2" height="1" fill="#000"/>
<rect x="1871" y="186" width="2" height="1" fill="#000"/>
<rect x="1871" y="219" width="2" height="1" fill="#000"/>
<rect x="1871" y="252" width="2" height="1" fill="#000"/>
<rect x="1871" y="285" width="2" height="1" fill="#000"/>
<rect x="1871" y="318" width="2" height="1" fill="#000"/>
<rect x="1871" y="351" width="2" height="1" fill="#000"/>
<rect x="1871" y="384" width="2" height="1" fill="#000"/>
<rect x="1871" y="417" width="2" height="1" fill="#000"/>
<rect x="1871" y="450" width="2" height="1" fill="#000"/>
<rect x="1871" y="483" width="2" height="1" fill="#000"/>
<rect x="1871" y="516" width="2" height="1" fill="#000"/>
<rect x="1871" y="549" width="2" height="1" fill="#000"/>
<rect x="1871" y="582" width="2" height="1" fill="#000"/>
<rect x="1871" y="589" width="2" height="1" fill="#000"/>
<rect x="1871" y="704" width="2" height="1" fill="#000"/>
<rect x="1871" y="776" width="1" height="1" fill="#000"/>
<rect x="3" y="778" width="1" height="3" fill="#000"/>
<rect x="67" y="778" width="1" height="3" fill="#000"/>
<rect x="131" y="778" width="1" height="3" fill="#000"/>
<rect x="195" y="778" width="1" height="3" fill="#000"/>
<rect x="259" y="778" width="1" height="3" fill="#000"/>
<rect x="323" y="778" width="1" height="3" fill="#000"/>
<rect x="387" y="778" width="1" height="3" fill="#000"/>
<rect x="451" y="778" width="1" height="3" fill="#000"/>
<rect x="515" y="778" width="1" height="3" fill="#000"/>
<rect x="579" y="778" width="1" height="3" fill="#000"/>
<rect x="643" y="778" width="1" height="3" fill="#000"/>
<rect x="707" y="778" width="1" height="3" fill="#000"/>
<rect x="771" y="778" width="1" height="3" fill="#000"/>
<rect x="835" y="778" width="1" height="3" fill="#000"/>
<rect x="899" y="778" width="1" height="3" fill="#000"/>
<rect x="963" y="778" width="1" height="3" fill="#000"/>
<rect x="1027" y="778" width="1" height="3" fill="#000"/>
<rect x="1091" y="778" width="1" height="3" fill="#000"/>
<rect x="1155" y="778" width="1" height="3" fill="#000"/>
<rect x="1219" y="778" width="1" height="3" fill="#000"/>
<rect x="1283" y="778" width="1" height="3" fill="#000"/>
<rect x="1347" y="778" width="1" height="3" fill="#000"/>
<rect x="1411" y="778" width="1" height="3" fill="#000"/>
</g>
<g class="txt" text-rendering="geometricPrecision">
<text transform="translate(7.5,14) scale(0.9307,1)" x="0" y="0" font-size="10" fill="#000" stroke="#000" stroke-width="0.1" xml:space="preserve">USDJPY,H4  149.126 149.155 149.122 149.129</text>
<text transform="translate(7.5,600) scale(0.9332,1)" x="0" y="0" font-size="10" fill="#000" stroke="#000" stroke-width="0.1" xml:space="preserve">MACD(12,26,9) 0.0205 -0.0595 0.1041 0.0000</text>
<text transform="translate(1876.5,25) scale(0.8900,1)" x="0" y="0" font-size="10" fill="#000" stroke="#000" stroke-width="0.1" xml:space="preserve">150.705</text>
<text transform="translate(1876.5,58) scale(0.8900,1)" x="0" y="0" font-size="10" fill="#000" stroke="#000" stroke-width="0.1" xml:space="preserve">150.470</text>
<text transform="translate(1876.5,91) scale(0.8900,1)" x="0" y="0" font-size="10" fill="#000" stroke="#000" stroke-width="0.1" xml:space="preserve">150.235</text>
<text transform="translate(1876.5,124) scale(0.8900,1)" x="0" y="0" font-size="10" fill="#000" stroke="#000" stroke-width="0.1" xml:space="preserve">149.995</text>
<text transform="translate(1876.5,157) scale(0.8900,1)" x="0" y="0" font-size="10" fill="#000" stroke="#000" stroke-width="0.1" xml:space="preserve">149.760</text>
<text transform="translate(1876.5,190) scale(0.8900,1)" x="0" y="0" font-size="10" fill="#000" stroke="#000" stroke-width="0.1" xml:space="preserve">149.525</text>
<text transform="translate(1876.5,223) scale(0.8900,1)" x="0" y="0" font-size="10" fill="#000" stroke="#000" stroke-width="0.1" xml:space="preserve">149.290</text>
<text transform="translate(1876.5,256) scale(0.8900,1)" x="0" y="0" font-size="10" fill="#000" stroke="#000" stroke-width="0.1" xml:space="preserve">149.055</text>
<text transform="translate(1876.5,289) scale(0.8900,1)" x="0" y="0" font-size="10" fill="#000" stroke="#000" stroke-width="0.1" xml:space="preserve">148.820</text>
<text transform="translate(1876.5,322) scale(0.8900,1)" x="0" y="0" font-size="10" fill="#000" stroke="#000" stroke-width="0.1" xml:space="preserve">148.585</text>
<text transform="translate(1876.5,355) scale(0.8900,1)" x="0" y="0" font-size="10" fill="#000" stroke="#000" stroke-width="0.1" xml:space="preserve">148.345</text>
<text transform="translate(1876.5,388) scale(0.8900,1)" x="0" y="0" font-size="10" fill="#000" stroke="#000" stroke-width="0.1" xml:space="preserve">148.110</text>
<text transform="translate(1876.5,421) scale(0.8900,1)" x="0" y="0" font-size="10" fill="#000" stroke="#000" stroke-width="0.1" xml:space="preserve">147.875</text>
<text transform="translate(1876.5,454) scale(0.8900,1)" x="0" y="0" font-size="10" fill="#000" stroke="#000" stroke-width="0.1" xml:space="preserve">147.640</text>
<text transform="translate(1876.5,487) scale(0.8900,1)" x="0" y="0" font-size="10" fill="#000" stroke="#000" stroke-width="0.1" xml:space="preserve">147.405</text>
<text transform="translate(1876.5,520) scale(0.8900,1)" x="0" y="0" font-size="10" fill="#000" stroke="#000" stroke-width="0.1" xml:space="preserve">147.170</text>
<text transform="translate(1876.5,553) scale(0.8900,1)" x="0" y="0" font-size="10" fill="#000" stroke="#000" stroke-width="0.1" xml:space="preserve">146.935</text>
<text transform="translate(1876.5,586) scale(0.8900,1)" x="0" y="0" font-size="10" fill="#000" stroke="#000" stroke-width="0.1" xml:space="preserve">146.695</text>
<rect x="1872" y="98" width="41" height="11" fill="#FF0000" shape-rendering="crispEdges"/>
<text transform="translate(1876.5,107) scale(0.8900,1)" x="0" y="0" font-size="10" fill="#FFFFFF" stroke="#FFFFFF" stroke-width="0.1" xml:space="preserve">150.115</text>
<rect x="1872" y="179" width="41" height="11" fill="#FF0000" shape-rendering="crispEdges"/>
<text transform="translate(1876.5,188) scale(0.8900,1)" x="0" y="0" font-size="10" fill="#FFFFFF" stroke="#FFFFFF" stroke-width="0.1" xml:space="preserve">149.535</text>
<rect x="1872" y="307" width="41" height="11" fill="#FF0000" shape-rendering="crispEdges"/>
<text transform="translate(1876.5,316) scale(0.8900,1)" x="0" y="0" font-size="10" fill="#FFFFFF" stroke="#FFFFFF" stroke-width="0.1" xml:space="preserve">148.617</text>
<rect x="1872" y="363" width="41" height="11" fill="#FF0000" shape-rendering="crispEdges"/>
<text transform="translate(1876.5,372) scale(0.8900,1)" x="0" y="0" font-size="10" fill="#FFFFFF" stroke="#FFFFFF" stroke-width="0.1" xml:space="preserve">148.219</text>
<rect x="1872" y="237" width="41" height="11" fill="#000000" shape-rendering="crispEdges"/>
<text transform="translate(1876.5,246) scale(0.8900,1)" x="0" y="0" font-size="10" fill="#FFFFFF" stroke="#FFFFFF" stroke-width="0.1" xml:space="preserve">149.129</text>
<text transform="translate(1874,598) scale(0.8900,1)" x="0" y="0" font-size="10" fill="#000" stroke="#000" stroke-width="0.1" xml:space="preserve">0.3769</text>
<text transform="translate(1874,708) scale(0.8900,1)" x="0" y="0" font-size="10" fill="#000" stroke="#000" stroke-width="0.1" xml:space="preserve">0.00</text>
<rect x="1872" y="731" width="39" height="11" fill="#FF0000" shape-rendering="crispEdges"/>
<text transform="translate(1874.5,740) scale(0.8900,1)" x="0" y="0" font-size="10" fill="#FFFFFF" stroke="#FFFFFF" stroke-width="0.1" xml:space="preserve">-0.1056</text>
<text transform="translate(1874,774) scale(0.8900,1)" x="0" y="0" font-size="10" fill="#000" stroke="#000" stroke-width="0.1" xml:space="preserve">-0.2348</text>
<text transform="translate(2,790) scale(0.9250,1)" x="0" y="0" font-size="10" fill="#000" stroke="#000" stroke-width="0.1" xml:space="preserve">21 Sep 2023</text>
<text transform="translate(66,790) scale(0.9250,1)" x="0" y="0" font-size="10" fill="#000" stroke="#000" stroke-width="0.1" xml:space="preserve">21 Sep 16:00</text>
<text transform="translate(130,790) scale(0.9250,1)" x="0" y="0" font-size="10" fill="#000" stroke="#000" stroke-width="0.1" xml:space="preserve">22 Sep 08:00</text>
<text transform="translate(194,790) scale(0.9250,1)" x="0" y="0" font-size="10" fill="#000" stroke="#000" stroke-width="0.1" xml:space="preserve">25 Sep 00:00</text>
<text transform="translate(258,790) scale(0.9250,1)" x="0" y="0" font-size="10" fill="#000" stroke="#000" stroke-width="0.1" xml:space="preserve">25 Sep 16:00</text>
<text transform="translate(322,790) scale(0.9250,1)" x="0" y="0" font-size="10" fill="#000" stroke="#000" stroke-width="0.1" xml:space="preserve">26 Sep 08:00</text>
<text transform="translate(386,790) scale(0.9250,1)" x="0" y="0" font-size="10" fill="#000" stroke="#000" stroke-width="0.1" xml:space="preserve">27 Sep 00:00</text>
<text transform="translate(450,790) scale(0.9250,1)" x="0" y="0" font-size="10" fill="#000" stroke="#000" stroke-width="0.1" xml:space="preserve">27 Sep 16:00</text>
<text transform="translate(514,790) scale(0.9250,1)" x="0" y="0" font-size="10" fill="#000" stroke="#000" stroke-width="0.1" xml:space="preserve">28 Sep 08:00</text>
<text transform="translate(578,790) scale(0.9250,1)" x="0" y="0" font-size="10" fill="#000" stroke="#000" stroke-width="0.1" xml:space="preserve">29 Sep 00:00</text>
<text transform="translate(642,790) scale(0.9250,1)" x="0" y="0" font-size="10" fill="#000" stroke="#000" stroke-width="0.1" xml:space="preserve">29 Sep 16:00</text>
<text transform="translate(706,790) scale(0.9250,1)" x="0" y="0" font-size="10" fill="#000" stroke="#000" stroke-width="0.1" xml:space="preserve">2 Oct 08:00</text>
<text transform="translate(770,790) scale(0.9250,1)" x="0" y="0" font-size="10" fill="#000" stroke="#000" stroke-width="0.1" xml:space="preserve">3 Oct 00:00</text>
<text transform="translate(834,790) scale(0.9250,1)" x="0" y="0" font-size="10" fill="#000" stroke="#000" stroke-width="0.1" xml:space="preserve">3 Oct 16:00</text>
<text transform="translate(898,790) scale(0.9250,1)" x="0" y="0" font-size="10" fill="#000" stroke="#000" stroke-width="0.1" xml:space="preserve">4 Oct 08:00</text>
<text transform="translate(962,790) scale(0.9250,1)" x="0" y="0" font-size="10" fill="#000" stroke="#000" stroke-width="0.1" xml:space="preserve">5 Oct 00:00</text>
<text transform="translate(1026,790) scale(0.9250,1)" x="0" y="0" font-size="10" fill="#000" stroke="#000" stroke-width="0.1" xml:space="preserve">5 Oct 16:00</text>
<text transform="translate(1090,790) scale(0.9250,1)" x="0" y="0" font-size="10" fill="#000" stroke="#000" stroke-width="0.1" xml:space="preserve">6 Oct 08:00</text>
<text transform="translate(1154,790) scale(0.9250,1)" x="0" y="0" font-size="10" fill="#000" stroke="#000" stroke-width="0.1" xml:space="preserve">9 Oct 00:00</text>
<text transform="translate(1218,790) scale(0.9250,1)" x="0" y="0" font-size="10" fill="#000" stroke="#000" stroke-width="0.1" xml:space="preserve">9 Oct 16:00</text>
<text transform="translate(1282,790) scale(0.9250,1)" x="0" y="0" font-size="10" fill="#000" stroke="#000" stroke-width="0.1" xml:space="preserve">10 Oct 08:00</text>
<text transform="translate(1346,790) scale(0.9250,1)" x="0" y="0" font-size="10" fill="#000" stroke="#000" stroke-width="0.1" xml:space="preserve">11 Oct 00:00</text>
<text transform="translate(1410,790) scale(0.9250,1)" x="0" y="0" font-size="10" fill="#000" stroke="#000" stroke-width="0.1" xml:space="preserve">11 Oct 16:00</text>
</g>
</svg>
</body></html>
